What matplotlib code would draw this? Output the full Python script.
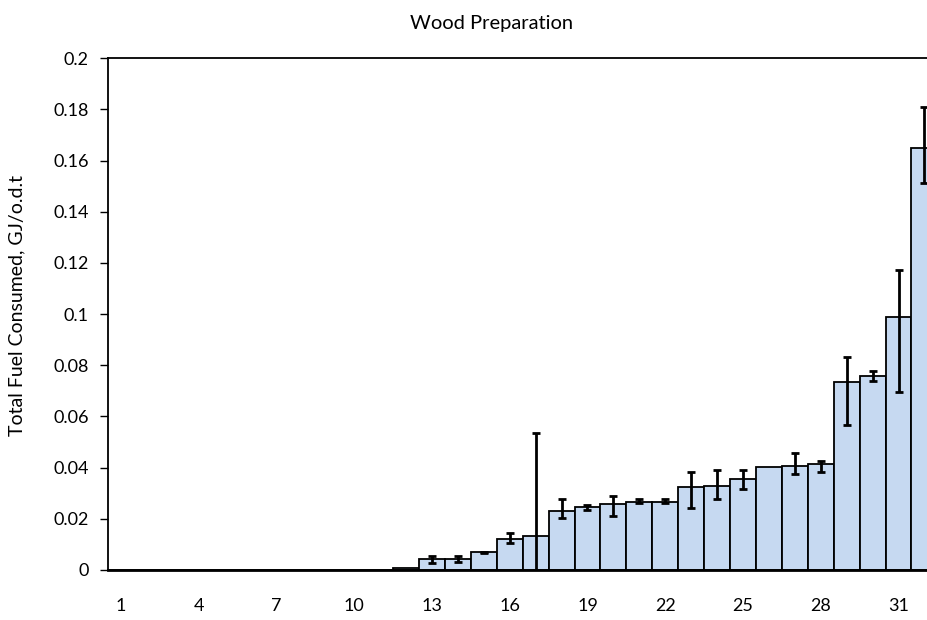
import matplotlib
matplotlib.use("Agg")
import matplotlib.pyplot as plt
import numpy as np

plt.rcParams['font.family'] = ['Lato', 'DejaVu Sans']

# Sites ranked by wood preparation fuel use
categories = list(range(1, 33))
fuel = [0, 0, 0, 0, 0, 0, 0, 0, 0, 0, 0, 0.0009,
        0.0042, 0.0042, 0.0069, 0.0121, 0.0133, 0.0229, 0.0246, 0.0258,
        0.0267, 0.0267, 0.0323, 0.0327, 0.0355, 0.0402, 0.0406, 0.0413,
        0.0733, 0.0758, 0.0988, 0.1651]
# lower and upper bounds of the error bars
fuel_low = [0, 0, 0, 0, 0, 0, 0, 0, 0, 0, 0, 0.0009,
            0.0029, 0.0030, 0.0067, 0.0107, 0.0, 0.0202, 0.0234, 0.0211,
            0.0260, 0.0260, 0.0241, 0.0277, 0.0316, 0.0402, 0.0374, 0.0384,
            0.0566, 0.0738, 0.0694, 0.1514]
fuel_high = [0, 0, 0, 0, 0, 0, 0, 0, 0, 0, 0, 0.0009,
             0.0055, 0.0054, 0.0071, 0.0143, 0.0534, 0.0277, 0.0255, 0.0288,
             0.0277, 0.0277, 0.0382, 0.0390, 0.0390, 0.0402, 0.0458, 0.0427,
             0.0833, 0.0777, 0.1172, 0.1810]
x_labels = [str(c) if (c - 1) % 3 == 0 else '' for c in categories]
y_ticks = [0, 0.02, 0.04, 0.06, 0.08, 0.1, 0.12, 0.14, 0.16, 0.18, 0.2]
y_tick_labels = ['0', '0.02', '0.04', '0.06', '0.08', '0.1', '0.12', '0.14',
                 '0.16', '0.18', '0.2']

W, H = 927, 620
fig = plt.figure(figsize=(W / 100, H / 100), dpi=100)
left_px, right_px, bottom_px, top_px = 108, 937.4, 570, 58.3
ax = fig.add_axes([left_px / W, 1 - bottom_px / H,
                   (right_px - left_px) / W, (bottom_px - top_px) / H])

x = np.arange(len(categories))
vals = np.array(fuel)
yerr = np.vstack([vals - np.array(fuel_low), np.array(fuel_high) - vals])
has_err = (yerr.sum(axis=0) > 0)

ax.bar(x, vals, width=1.0, color='#C6D9F1', edgecolor='black', linewidth=1.3,
       zorder=2)
ax.errorbar(x[has_err], vals[has_err], yerr=yerr[:, has_err], fmt='none',
            ecolor='black', elinewidth=2, capsize=3, capthick=2, zorder=3)

ax.set_xlim(-0.5, len(categories) - 0.5)
ax.set_ylim(0, 0.2)
ax.set_yticks(y_ticks)
ax.set_yticklabels(y_tick_labels)
ax.set_xticks(x)
ax.set_xticklabels(x_labels)
ax.tick_params(axis='x', length=0, pad=20, labelsize=13)
ax.tick_params(axis='y', length=6, width=1, pad=8, labelsize=13, direction='out')

for side in ['left', 'bottom', 'top']:
    ax.spines[side].set_linewidth(1.3)
ax.spines['bottom'].set_linewidth(2)
ax.spines['right'].set_visible(False)

ax.set_ylabel('Total Fuel Consumed, GJ/o.d.t', fontsize=14)
ax.yaxis.set_label_coords((25 - left_px) / (right_px - left_px),
                          (bottom_px - 305) / (bottom_px - top_px))

fig.text(492 / W, 1 - 23 / H, 'Wood Preparation', ha='center', va='center',
         fontsize=14.5)

fig.savefig('out.png', dpi=100)
